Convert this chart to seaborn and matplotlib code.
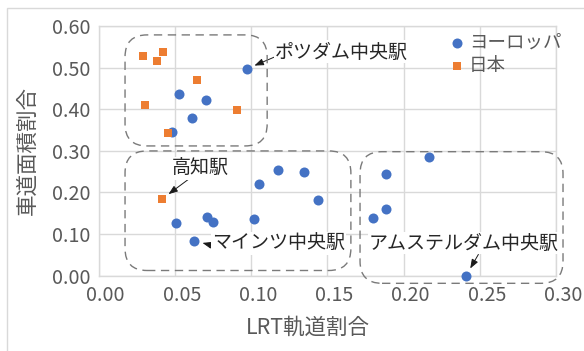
import matplotlib
matplotlib.use("Agg")
import matplotlib.pyplot as plt
import matplotlib.transforms as mtransforms
from matplotlib.patches import FancyBboxPatch, Rectangle
import pandas as pd
import seaborn as sns

# LRT track share vs. roadway area share around major stations
europe_x = [0.0972, 0.053, 0.0707, 0.0616, 0.0482, 0.0507, 0.071, 0.0751, 0.0629, 0.1022,
            0.1055, 0.1176, 0.1348, 0.1442, 0.2167, 0.1886, 0.1884, 0.1797, 0.241]
europe_y = [0.497, 0.436, 0.421, 0.379, 0.346, 0.126, 0.140, 0.130, 0.084, 0.137,
            0.220, 0.253, 0.248, 0.182, 0.285, 0.245, 0.160, 0.139, 0.000]
japan_x = [0.0294, 0.0425, 0.0386, 0.0646, 0.0307, 0.0911, 0.0454, 0.0415]
japan_y = [0.529, 0.537, 0.515, 0.471, 0.410, 0.398, 0.342, 0.184]

series_names = ["ヨーロッパ", "日本"]
x_ticks = [0.00, 0.05, 0.10, 0.15, 0.20, 0.25, 0.30]
y_ticks = [0.00, 0.10, 0.20, 0.30, 0.40, 0.50, 0.60]
x_title = "LRT軌道割合"
y_title = "車道面積割合"

# Labelled stations: (label, series, index of point)
callouts = [
    ("ポツダム中央駅", "europe", 0),
    ("高知駅", "japan", 7),
    ("マインツ中央駅", "europe", 8),
    ("アムステルダム中央駅", "europe", 18),
]

# Grouping frames in data units: (x0, y0, x1, y1)
groups = [
    (0.0174, 0.3118, 0.1106, 0.5786),
    (0.0174, 0.0125, 0.1655, 0.2998),
    (0.1715, -0.0183, 0.3046, 0.2980),
]

sns.set_theme(style="white")
plt.rcParams["font.family"] = ["Noto Sans CJK JP", "DejaVu Sans"]

BLUE = "#4472C4"
ORANGE = "#ED7D31"
GRAY_TXT = "#595959"
GRID = "#d9d9d9"

W, H = 584, 351
fig = plt.figure(figsize=(W / 100, H / 100), dpi=100)
ax = fig.add_axes([98.5 / W, 1 - 275.7 / H, (556 - 98.5) / W, (275.7 - 26) / H])

df_eu = pd.DataFrame({"x": europe_x, "y": europe_y})
df_jp = pd.DataFrame({"x": japan_x, "y": japan_y})
sns.scatterplot(data=df_eu, x="x", y="y", ax=ax, color=BLUE, marker="o", s=52,
                linewidth=0, label=series_names[0], zorder=4, clip_on=False)
sns.scatterplot(data=df_jp, x="x", y="y", ax=ax, color=ORANGE, marker="s", s=40,
                linewidth=0, label=series_names[1], zorder=5, clip_on=False)

ax.set_xlim(0, 0.30)
ax.set_ylim(0, 0.60)
ax.set_xticks(x_ticks)
ax.set_yticks(y_ticks)
ax.set_xticklabels([f"{v:.2f}" for v in x_ticks])
ax.set_yticklabels([f"{v:.2f}" for v in y_ticks])
ax.tick_params(axis="both", length=0, labelsize=14.2, colors=GRAY_TXT)
ax.tick_params(axis="x", pad=7)
ax.tick_params(axis="y", pad=5.5)
shift = mtransforms.ScaledTranslation(7 / 100, 0, fig.dpi_scale_trans)
for lbl in ax.get_xticklabels():
    lbl.set_transform(lbl.get_transform() + shift)

ax.grid(True, color=GRID, linewidth=1)
ax.set_axisbelow(True)
for sp in ax.spines.values():
    sp.set_color(GRID)
    sp.set_linewidth(1)

ax.set_xlabel(x_title, fontsize=15.5, color=GRAY_TXT, va="center")
ax.set_ylabel(y_title, fontsize=15.5, color=GRAY_TXT, va="center", ha="center")
ax.xaxis.set_label_coords(0.458, -0.2095)
ax.yaxis.set_label_coords(-0.1548, 0.503)

# legend
leg = ax.legend(loc="upper left", bbox_to_anchor=(0.755, 1.0), frameon=False,
                fontsize=13.3, handlelength=0.6, handletextpad=0.35,
                labelspacing=0.3, borderaxespad=0.0, markerscale=1.0)
for t in leg.get_texts():
    t.set_color(GRAY_TXT)

fig.canvas.draw()

# dashed rounded frames
for (x0, y0, x1, y1) in groups:
    (px0, py0) = ax.transData.transform((x0, y0))
    (px1, py1) = ax.transData.transform((x1, y1))
    patch = FancyBboxPatch((px0, py0), px1 - px0, py1 - py0,
                           boxstyle="round,pad=0,rounding_size=22",
                           transform=mtransforms.IdentityTransform(),
                           fill=False, edgecolor="#7a7a7a", linewidth=1.0,
                           linestyle=(0, (6, 4)), zorder=3, clip_on=False)
    fig.patches.append(patch)

# callout labels with arrows
series = {"europe": (europe_x, europe_y), "japan": (japan_x, japan_y)}
text_spots = {
    "ポツダム中央駅": ((0.1158, 0.5377), "left", (0.0, 0.27)),
    "高知駅": ((0.0666, 0.2582), "center", (0.31, 0.0)),
    "マインツ中央駅": ((0.0743, 0.0779), "left", (0.0, 0.4)),
    "アムステルダム中央駅": ((0.2395, 0.0786), "center", (0.58, 0.0)),
}
for name, key, idx in callouts:
    xs, ys = series[key]
    pos, ha, rel = text_spots[name]
    ax.annotate(name, xy=(xs[idx], ys[idx]), xytext=pos, ha=ha, va="center",
                fontsize=13.7, color="#262626", zorder=6, annotation_clip=False,
                bbox=dict(boxstyle="square,pad=0.05", fc="white", ec="none"),
                arrowprops=dict(arrowstyle="-|>,head_length=0.4,head_width=0.15",
                                color="#1a1a1a", lw=0.7, shrinkA=0, shrinkB=6,
                                relpos=rel))

# outer chart frame
fig.patches.append(Rectangle((7 / W, -0.1), 1.2, 1 - 8 / H + 0.1,
                             transform=fig.transFigure, fill=False,
                             edgecolor=GRID, linewidth=1))

fig.savefig("out.png", dpi=100, facecolor="white")
